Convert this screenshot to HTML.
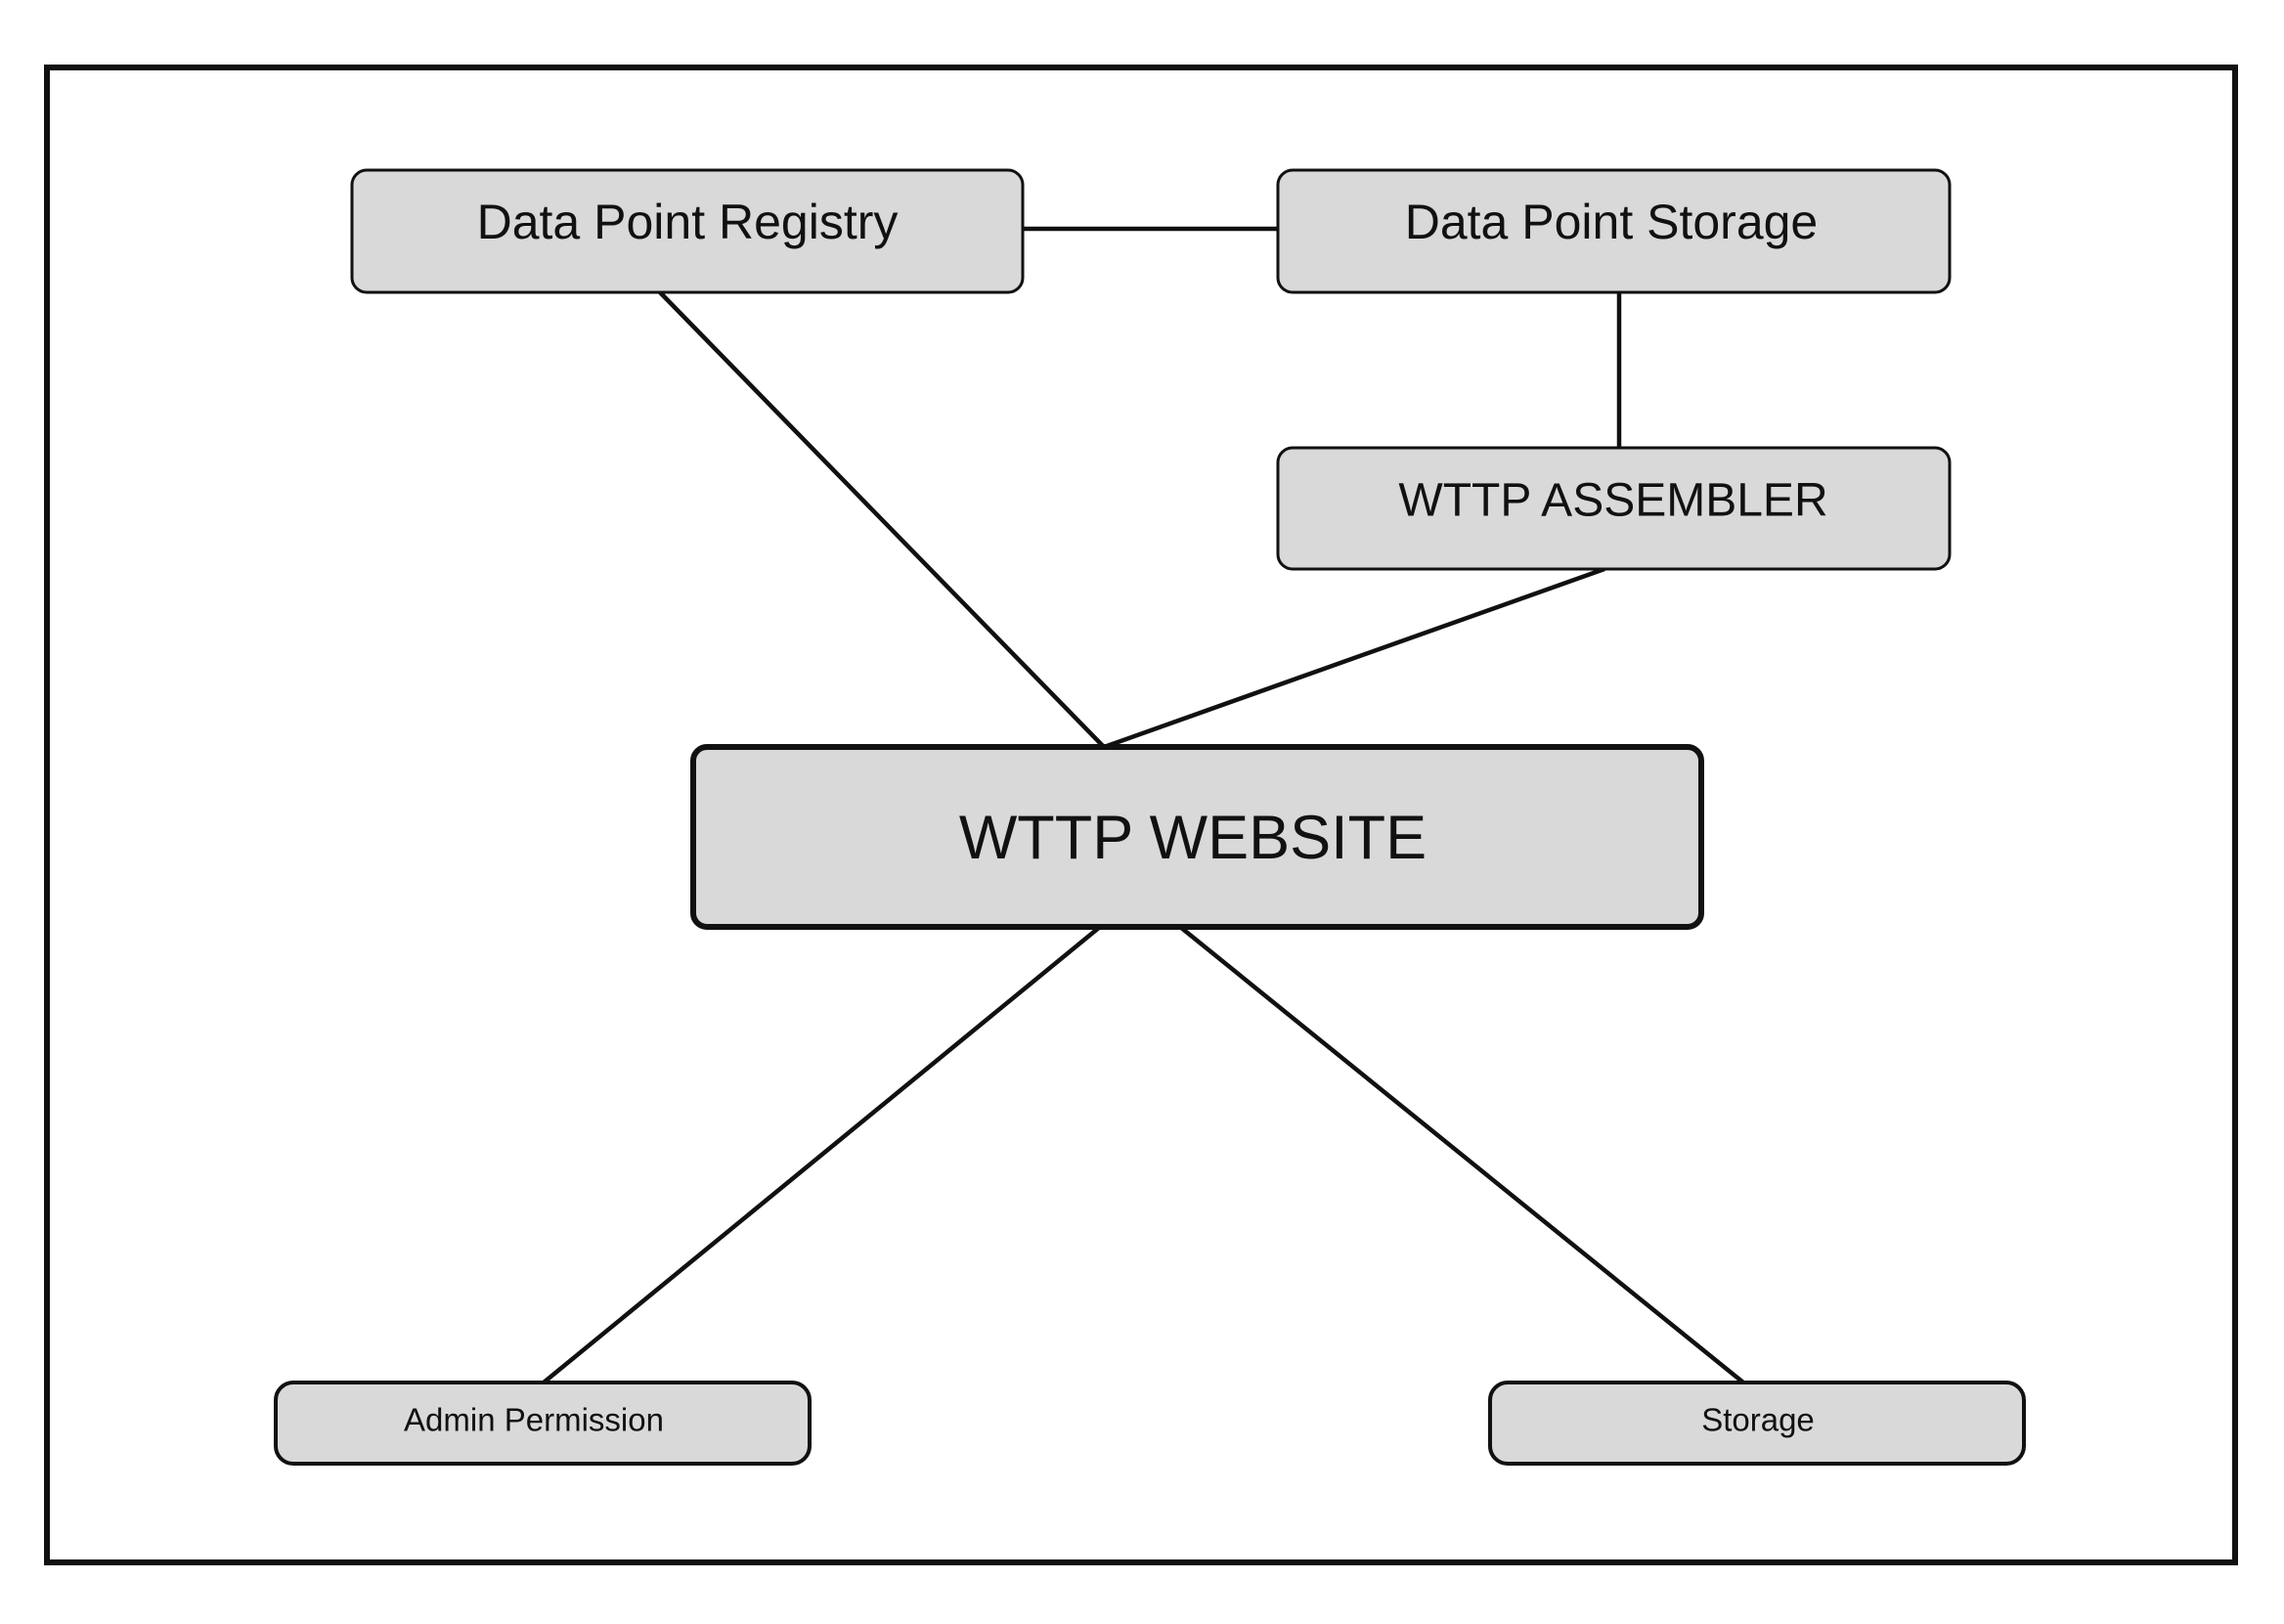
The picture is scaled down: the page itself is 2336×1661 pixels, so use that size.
<!DOCTYPE html>
<html><head><meta charset="utf-8"><style>
html,body{margin:0;padding:0;background:#fff;}
svg{display:block;}
text{font-family:"Liberation Sans",sans-serif;fill:#111;text-anchor:middle;dominant-baseline:central;}
</style></head><body>
<svg width="2336" height="1661" viewBox="0 0 2336 1661" xmlns="http://www.w3.org/2000/svg">
<rect x="0" y="0" width="2336" height="1661" fill="#fff"/>
<rect x="48" y="69" width="2238" height="1529" fill="none" stroke="#111" stroke-width="6"/>
<g stroke="#111" stroke-width="4.5" fill="none">
<line x1="1046" y1="234" x2="1307" y2="234"/>
<line x1="1656" y1="299" x2="1656" y2="458"/>
<line x1="675" y1="299" x2="1128" y2="763"/>
<line x1="1641" y1="582" x2="1132" y2="763"/>
<line x1="1125" y1="948" x2="556" y2="1414"/>
<line x1="1207" y1="948" x2="1783" y2="1414"/>
</g>
<g fill="#d9d9d9" stroke="#111" stroke-width="3">
<rect x="360" y="174" width="686" height="125" rx="15"/>
<rect x="1307" y="174" width="687" height="125" rx="15"/>
<rect x="1307" y="458" width="687" height="124" rx="15"/>
<rect x="282" y="1414" width="546" height="83" rx="18" stroke-width="4"/>
<rect x="1524" y="1414" width="546" height="83" rx="18" stroke-width="4"/>
<rect x="709" y="764" width="1031" height="184" rx="14" stroke-width="6"/>
</g>
<text x="703" y="227" font-size="50">Data Point Registry</text>
<text x="1648" y="227" font-size="50">Data Point Storage</text>
<text x="1650" y="512" font-size="48">WTTP ASSEMBLER</text>
<text x="1220" y="857" font-size="63">WTTP WEBSITE</text>
<text x="546" y="1452" font-size="33">Admin Permission</text>
<text x="1798" y="1452" font-size="33">Storage</text>
</svg>
</body></html>
